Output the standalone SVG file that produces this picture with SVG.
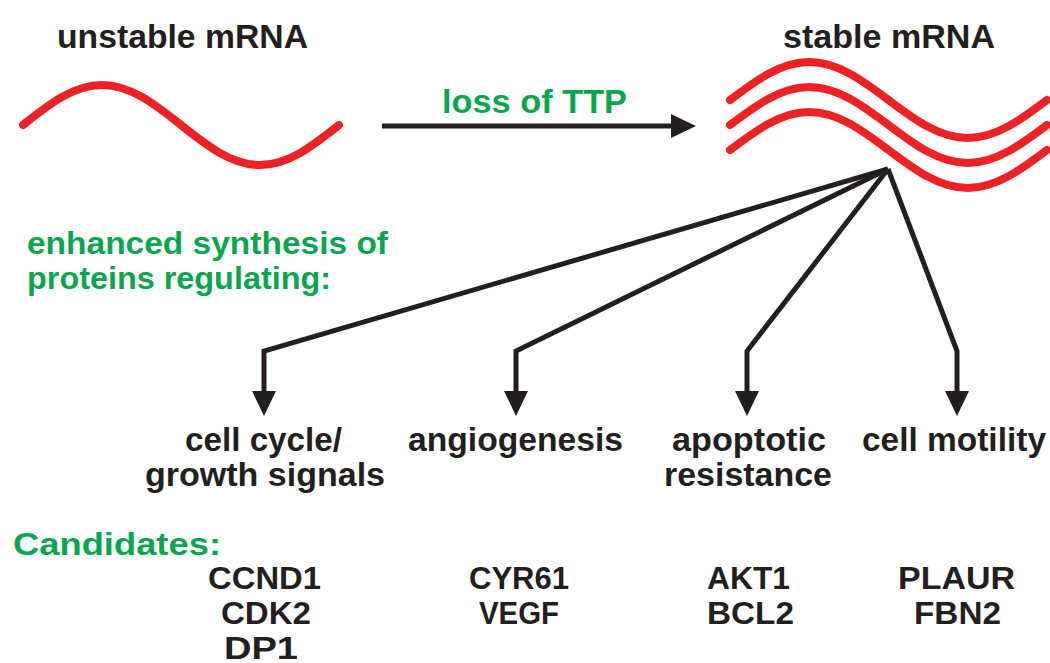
<svg xmlns="http://www.w3.org/2000/svg" width="1050" height="663" viewBox="0 0 1050 663">
<style>
.t{font-family:"Liberation Sans",Arial,sans-serif;font-weight:bold;fill:#231f20}
.g{font-family:"Liberation Sans",Arial,sans-serif;font-weight:bold;fill:#0aa64f}
.rna{fill:none;stroke:#ee2224;stroke-width:8;stroke-linecap:round}
.con{fill:none;stroke:#231f20;stroke-width:5;stroke-linejoin:miter}
</style>
<defs>
<marker id="ah" markerUnits="userSpaceOnUse" markerWidth="27" markerHeight="26" refX="1" refY="12" orient="auto">
<path d="M0,0 L25,12 L0,24 z" fill="#231f20"/>
</marker>
<path id="wave" d="M0,0 C25.8,-19.5 50.6,-38 79.25,-38 S132.7,-19.5 158.5,0 S209.1,38 237.75,38 S291.2,19.5 317,0"/>
</defs>
<rect width="1050" height="663" fill="#fff"/>

<g id="unstable-mrna">
<text class="t" x="57" y="48" font-size="34" textLength="251" lengthAdjust="spacingAndGlyphs">unstable mRNA</text>
<path class="rna" d="M23,125 C48.8,104.5 73.4,85 102,85 S155.2,104.5 181,125 S231.4,165 260,165 S313.2,145.5 339,125"/>
</g>

<g id="stable-mrna">
<text class="t" x="783" y="48" font-size="34" textLength="212" lengthAdjust="spacingAndGlyphs">stable mRNA</text>
<use href="#wave" class="rna" transform="translate(730,100)"/>
<use href="#wave" class="rna" transform="translate(730,125)"/>
<use href="#wave" class="rna" transform="translate(730,150)"/>
</g>

<g id="connectors">
<path class="con" d="M382,126 L672,126" marker-end="url(#ah)"/>
<path class="con" d="M888,169 L264,351 L264,392" marker-end="url(#ah)"/>
<path class="con" d="M888,169 L516,351 L516,392" marker-end="url(#ah)"/>
<path class="con" d="M888,169 L747,351 L747,392" marker-end="url(#ah)"/>
<path class="con" d="M888,169 L957,351 L957,392" marker-end="url(#ah)"/>
</g>

<g id="loss-label">
<text class="g" x="442" y="113" font-size="33" textLength="185" lengthAdjust="spacingAndGlyphs">loss of TTP</text>
</g>

<g id="enhanced-label">
<text class="g" x="27" y="254" font-size="32" textLength="361" lengthAdjust="spacingAndGlyphs">enhanced synthesis of</text>
<text class="g" x="27" y="289" font-size="32" textLength="304" lengthAdjust="spacingAndGlyphs">proteins regulating:</text>
</g>

<g id="cell-cycle">
<text class="t" x="185" y="451" font-size="33" textLength="157" lengthAdjust="spacingAndGlyphs">cell cycle/</text>
<text class="t" x="145" y="486" font-size="33" textLength="240" lengthAdjust="spacingAndGlyphs">growth signals</text>
</g>
<g id="angiogenesis">
<text class="t" x="408" y="451" font-size="33" textLength="215" lengthAdjust="spacingAndGlyphs">angiogenesis</text>
</g>
<g id="apoptotic-resistance">
<text class="t" x="672" y="451" font-size="33" textLength="154" lengthAdjust="spacingAndGlyphs">apoptotic</text>
<text class="t" x="664" y="486" font-size="33" textLength="168" lengthAdjust="spacingAndGlyphs">resistance</text>
</g>
<g id="cell-motility">
<text class="t" x="862" y="451" font-size="33" textLength="184" lengthAdjust="spacingAndGlyphs">cell motility</text>
</g>

<g id="candidates">
<text class="g" x="13" y="555" font-size="31" textLength="208" lengthAdjust="spacingAndGlyphs">Candidates:</text>
</g>
<g id="genes-cell-cycle">
<text class="t" x="208" y="589" font-size="31" textLength="113" lengthAdjust="spacingAndGlyphs">CCND1</text>
<text class="t" x="221" y="624" font-size="31" textLength="90" lengthAdjust="spacingAndGlyphs">CDK2</text>
<text class="t" x="224" y="659" font-size="31" textLength="74" lengthAdjust="spacingAndGlyphs">DP1</text>
</g>
<g id="genes-angiogenesis">
<text class="t" x="469" y="589" font-size="31" textLength="100" lengthAdjust="spacingAndGlyphs">CYR61</text>
<text class="t" x="479" y="624" font-size="31" textLength="80" lengthAdjust="spacingAndGlyphs">VEGF</text>
</g>
<g id="genes-apoptotic">
<text class="t" x="707" y="589" font-size="31" textLength="83" lengthAdjust="spacingAndGlyphs">AKT1</text>
<text class="t" x="707" y="624" font-size="31" textLength="87" lengthAdjust="spacingAndGlyphs">BCL2</text>
</g>
<g id="genes-motility">
<text class="t" x="898" y="589" font-size="31" textLength="117" lengthAdjust="spacingAndGlyphs">PLAUR</text>
<text class="t" x="914" y="624" font-size="31" textLength="87" lengthAdjust="spacingAndGlyphs">FBN2</text>
</g>
</svg>
